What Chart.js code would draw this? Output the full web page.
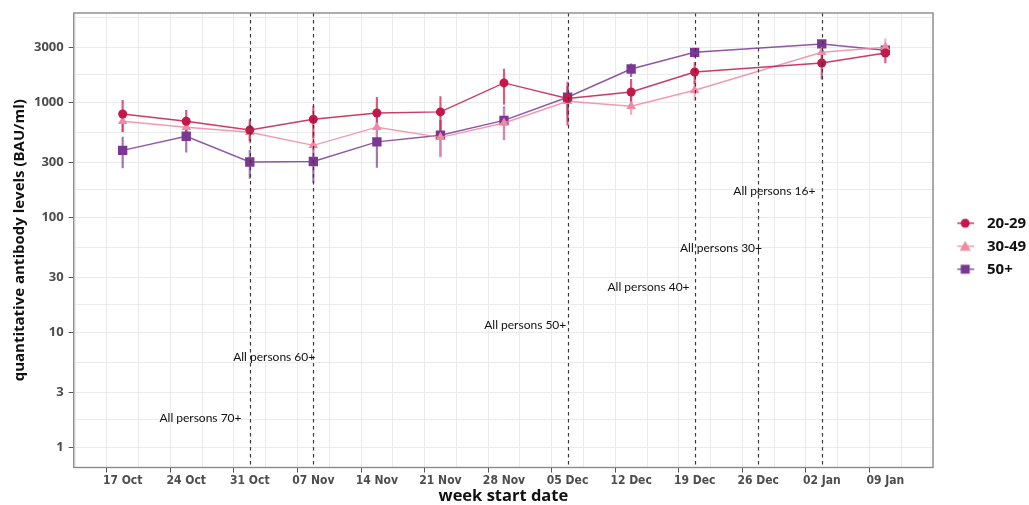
<!doctype html>
<html>
<head>
<meta charset="UTF-8">
<title>quantitative antibody levels</title>
<style>
body{margin:0;background:#fff;}
</style>
</head>
<body>
<canvas id="chart" width="1029" height="505"></canvas>
<script src="https://cdn.jsdelivr.net/npm/chart.js@4/dist/chart.umd.min.js"></script>
<script>
// week start dates (x categories)
var weeks = ['17 Oct','24 Oct','31 Oct','07 Nov','14 Nov','21 Nov','28 Nov','05 Dec','12 Dec','19 Dec','26 Dec','02 Jan','09 Jan'];

// 20-29
var g1 = [787,680,571,708,803,820,1465,1072,1222,1824,null,2182,2669];
var g1lo = [551,546,458,487,585,546,955,628,926,1435,null,1577,2182];
var g1hi = [1035,847,702,918,1100,1115,1936,1488,1577,2204,null,2830,3020];
// 30-49
var g2 = [680,604,546,420,604,493,657,1015,918,1265,null,2705,2993];
var g2lo = [546,488,439,322,410,332,468,683,780,1035,null,2240,2630];
var g2hi = [829,741,663,546,877,683,877,1365,1120,1510,null,3220,3550];
// 50+
var g3 = [380,504,301,304,450,514,693,1100,1936,2705,null,3198,2818];
var g3lo = [267,366,217,200,270,338,470,780,1660,2440,null,2925,2535];
var g3hi = [496,605,380,410,614,693,907,1365,2145,2925,null,3410,3120];

var groups = ['20-29','30-49','50+'];
var colors = ['#c4174a','#ef8aa2','#7b3893'];
var shapes = ['circle','triangle','rect'];

// y axis breaks
var yMajor = [1,3,10,30,100,300,1000,3000];

// vaccination eligibility lines and labels
var vlines = [2,3,7,9,10,11];
var noteText = ['All persons 70+','All persons 60+','All persons 50+','All persons 40+','All persons 30+','All persons 16+'];
var noteX = [1.87,3.03,6.98,8.92,10.06,10.9];
var noteY = [1.79,6.1,11.5,24.8,53.7,169];

function pts(arr){
  return arr.map(function(v,i){ return {x:i, y:v}; });
}
function bars(lo,hi){
  var out = [];
  for (var i=0;i<lo.length;i++){
    if (lo[i]!==null) out.push({x:i, y:[lo[i],hi[i]]});
  }
  return out;
}
function alpha(hex,a){
  var r=parseInt(hex.substr(1,2),16), g=parseInt(hex.substr(3,2),16), b=parseInt(hex.substr(5,2),16);
  return 'rgba('+r+','+g+','+b+','+a+')';
}
function makeIcon(color, style){
  var c = document.createElement('canvas');
  c.width = 38; c.height = 14;
  var g = c.getContext('2d');
  g.strokeStyle = alpha(color,0.85); g.lineWidth = 1.5;
  g.beginPath(); g.moveTo(16,7); g.lineTo(33,7); g.stroke();
  g.fillStyle = color;
  if (style==='circle'){ g.beginPath(); g.arc(24,7,4.5,0,Math.PI*2); g.fill(); }
  else if (style==='triangle'){ g.beginPath(); g.moveTo(24,1.5); g.lineTo(29.5,11.5); g.lineTo(18.5,11.5); g.closePath(); g.fill(); }
  else { g.fillRect(19.5,2.5,9,9); }
  return c;
}
var icons = [makeIcon(colors[0],'circle'), makeIcon(colors[1],'triangle'), makeIcon(colors[2],'rect')];

var series = [g1,g2,g3];
var los = [g1lo,g2lo,g3lo];
var his = [g1hi,g2hi,g3hi];
var radii = [4.5,5.5,6.6];

var datasets = [];
for (var s=0;s<3;s++){
  datasets.push({
    type:'line', label:groups[s], data:pts(series[s]),
    borderColor:alpha(colors[s],0.85), backgroundColor:colors[s],
    pointBackgroundColor:colors[s], pointBorderWidth:0,
    pointStyle:shapes[s], pointRadius:radii[s], borderWidth:1.4,
    spanGaps:true, tension:0
  });
}
for (var s2=0;s2<3;s2++){
  datasets.push({
    type:'bar', label:'err'+s2, data:bars(los[s2],his[s2]),
    backgroundColor:alpha(colors[s2],0.7), borderWidth:0,
    barThickness:1.5, grouped:false
  });
}

var overlay = {
  id:'overlay',
  afterDatasetsDraw: function(chart){
    var ctx = chart.ctx, xs = chart.scales.x, ys = chart.scales.y, a = chart.chartArea;
    ctx.save();
    ctx.strokeStyle = '#3a3a3a'; ctx.lineWidth = 1.2; ctx.setLineDash([3.5,3.5]);
    vlines.forEach(function(v){
      var px = Math.round(xs.getPixelForValue(v))+0.5;
      ctx.beginPath(); ctx.moveTo(px,a.top); ctx.lineTo(px,a.bottom); ctx.stroke();
    });
    ctx.setLineDash([]);
    ctx.fillStyle = '#111'; ctx.font = '12px Lato'; ctx.textAlign = 'right'; ctx.textBaseline = 'middle';
    noteText.forEach(function(t,i){
      ctx.fillText(t, xs.getPixelForValue(noteX[i]), ys.getPixelForValue(noteY[i]));
    });
    ctx.strokeStyle = '#8a8a8a'; ctx.lineWidth = 1.4;
    ctx.strokeRect(a.left, a.top, a.right-a.left, a.bottom-a.top);
    ctx.restore();
  }
};

new Chart(document.getElementById('chart'), {
  type:'line',
  data:{ datasets:datasets },
  plugins:[overlay],
  options:{
    responsive:false, animation:false,
    layout:{ padding:{ top:13, left:7, right:0, bottom:0 } },
    plugins:{
      tooltip:{ enabled:false },
      legend:{
        position:'right', fullSize:false, maxWidth:96,
        title:{ display:true, text:' ', font:{ size:8, lineHeight:1 }, padding:{top:2,bottom:2} },
        labels:{
          usePointStyle:true, pointStyleWidth:38.5, padding:8,
          color:'#111', font:{ family:'Open Sans', size:15, weight:'bold' },
          generateLabels:function(chart){
            return [0,1,2].map(function(i){
              return { text:groups[i], pointStyle:icons[i], datasetIndex:i, hidden:false,
                       fillStyle:colors[i], strokeStyle:colors[i], lineWidth:0, fontColor:'#111' };
            });
          }
        }
      }
    },
    scales:{
      x:{
        type:'linear', min:-0.77, max:12.75, offset:false,
        afterBuildTicks:function(sc){
          var t=[]; for (var v=-0.5; v<=12.5; v+=0.5) t.push({value:v}); sc.ticks=t;
        },
        ticks:{ autoSkip:false, maxRotation:0, padding:2, color:'#4d4d4d',
          font:{ family:"'Liberation Sans Narrow','DejaVu Sans Condensed',sans-serif", size:12, weight:'bold', lineHeight:1 },
          callback:function(v){ return Number.isInteger(v) ? weeks[v] : ''; } },
        grid:{ color:'#ebebeb', lineWidth:1, tickLength:5,
          tickColor:function(c){ return (c.tick && Number.isInteger(c.tick.value)) ? '#555' : 'rgba(0,0,0,0)'; } },
        border:{ display:false },
        title:{ display:true, text:'week start date', color:'#111', padding:{top:0,bottom:0},
          font:{ family:'Open Sans', size:16.5, weight:'bold', lineHeight:1 } }
      },
      y:{
        type:'logarithmic', min:0.665, max:5940,
        afterBuildTicks:function(sc){
          var t=[];
          yMajor.forEach(function(v,i){
            t.push({value:v});
            var nxt = i<yMajor.length-1 ? yMajor[i+1] : v*10/3;
            var mid = Math.sqrt(v*nxt);
            if (mid < 5940) t.push({value:mid});
          });
          sc.ticks=t;
        },
        ticks:{ autoSkip:false, padding:5, color:'#4d4d4d',
          font:{ family:'Open Sans', size:13, weight:'bold' },
          callback:function(v){ return yMajor.indexOf(v)>=0 ? String(v) : ''; } },
        grid:{ color:'#ebebeb', lineWidth:1, tickLength:5,
          tickColor:function(c){ return (c.tick && yMajor.indexOf(c.tick.value)>=0) ? '#555' : 'rgba(0,0,0,0)'; } },
        border:{ display:false },
        title:{ display:true, text:'quantitative antibody levels (BAU/ml)', color:'#111', padding:{top:4,bottom:0},
          font:{ family:'Open Sans', size:15, weight:'bold' } }
      }
    }
  }
});
</script>
</body>
</html>
